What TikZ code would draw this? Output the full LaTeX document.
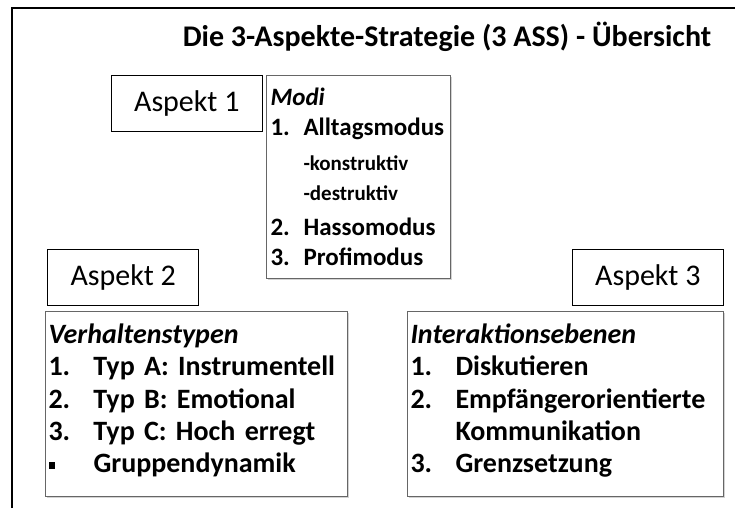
\documentclass[tikz,border=0pt]{standalone}
\usepackage{fontspec}
\setmainfont{Carlito}
\usetikzlibrary{positioning,shadows}

\newcommand{\nr}[2][45pt]{\makebox[#1][l]{#2}}

\begin{document}
\begin{tikzpicture}[x=1pt, y=-1pt,
  aspekt/.style={rectangle, draw, line width=1.4pt, font=\fontsize{30}{32}\selectfont,
                 minimum width=151pt, minimum height=56pt, inner sep=0pt},
  liste/.style={rectangle, draw=black!60, line width=1pt, fill=white, anchor=north west,
                drop shadow={shadow xshift=1.5pt, shadow yshift=-1.5pt, opacity=0.35},
                align=left, inner xsep=3pt, inner ysep=0pt,
                font=\bfseries\fontsize{28}{32.3}\selectfont}
]
  \useasboundingbox (0,0) rectangle (735,508);
  % Rahmen
  \draw[line width=2.2pt] (12,508) -- (12,8) -- (735,8);
  \node[font=\bfseries\fontsize{30}{32}\selectfont, anchor=base] (titel) at (447,47)
    {Die 3-Aspekte-Strategie (3 ASS) - Übersicht};

  % Aspekt 1
  \node[liste, inner xsep=4pt, text width=176pt, text height=30pt, text depth=173pt,
        font=\bfseries\fontsize{25}{30}\selectfont]
    (modi) at (266,75) {\textit{Modi}\\
    \nr[33pt]{1.}Alltagsmodus\\[5pt]
    \nr[33pt]{}{\fontsize{21}{30}\selectfont -konstruktiv}\\
    \nr[33pt]{}{\fontsize{21}{30}\selectfont -destruktiv}\\[5pt]
    \nr[33pt]{2.}Hassomodus\\
    \nr[33pt]{3.}Profimodus};
  \node[aspekt, anchor=north east] (asp1) at (263,75) {Aspekt 1};

  % Aspekt 2
  \node[liste, text width=296pt, text height=32pt, text depth=153pt]
    (verh) at (45,311) {\textit{Verhaltenstypen}\\
    \nr{1.}Typ A: Instrumentell\\
    \nr{2.}Typ B: Emotional\\
    \nr{3.}Typ C: Hoch erregt\\
    \nr{\rule[4pt]{6pt}{7pt}}Gruppendynamik};
  \node[aspekt, above=5pt of verh.north west, anchor=south west, xshift=2pt] (asp2) {Aspekt 2};

  % Aspekt 3
  \node[liste, text width=310pt, text height=32pt, text depth=153pt]
    (inter) at (407,311) {\textit{Interaktionsebenen}\\
    \nr{1.}Diskutieren\\
    \nr{2.}Empfängerorientierte\\
    \nr{}Kommunikation\\
    \nr{3.}Grenzsetzung};
  \node[aspekt, above=5pt of inter.north east, anchor=south east] (asp3) {Aspekt 3};
\end{tikzpicture}
\end{document}
